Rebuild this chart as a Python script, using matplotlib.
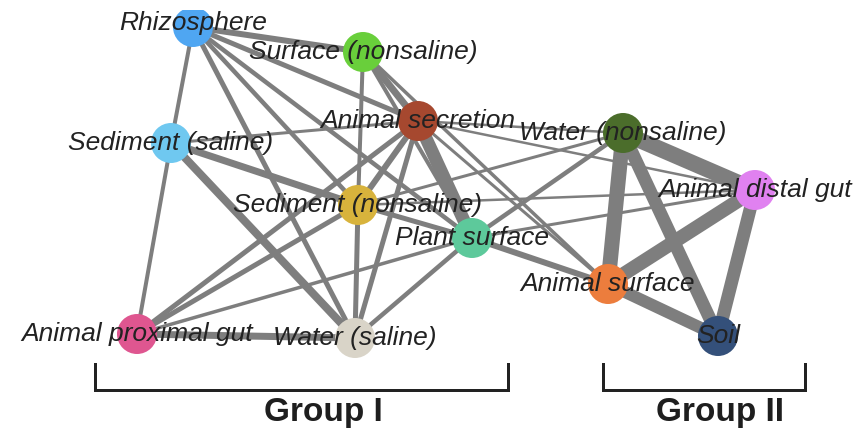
import matplotlib
matplotlib.use("Agg")
import matplotlib.pyplot as plt

# network of habitat co-occurrence, node positions in pixel units
names = ["Rhizosphere", "Surface (nonsaline)", "Animal secretion",
         "Sediment (saline)", "Sediment (nonsaline)", "Plant surface",
         "Animal proximal gut", "Water (saline)", "Water (nonsaline)",
         "Animal distal gut", "Animal surface", "Soil"]
colors = ["#4fa6f2", "#69cf3b", "#a6482f", "#6fc8f0", "#d8b33c", "#5dc99b",
          "#df5690", "#d9d4c8", "#4b6d2b", "#e081f0", "#ec7d3d", "#34507a"]

layout = {
    "Rhizosphere": (193, 27),
    "Surface (nonsaline)": (363, 52),
    "Animal secretion": (418, 121),
    "Sediment (saline)": (171, 143),
    "Sediment (nonsaline)": (358, 205),
    "Plant surface": (472, 238),
    "Animal proximal gut": (137, 334),
    "Water (saline)": (355, 338),
    "Water (nonsaline)": (623, 133),
    "Animal distal gut": (755, 190),
    "Animal surface": (608, 284),
    "Soil": (718, 336),
}

# edges: (a, b, weight) -> weight drawn as line width
edges = [
    ("Rhizosphere", "Sediment (saline)", 4),
    ("Sediment (saline)", "Animal proximal gut", 4),
    ("Rhizosphere", "Surface (nonsaline)", 6),
    ("Rhizosphere", "Animal secretion", 5),
    ("Rhizosphere", "Sediment (nonsaline)", 4.5),
    ("Rhizosphere", "Plant surface", 4.5),
    ("Rhizosphere", "Water (saline)", 5),
    ("Surface (nonsaline)", "Animal secretion", 7),
    ("Surface (nonsaline)", "Sediment (nonsaline)", 4),
    ("Sediment (nonsaline)", "Water (saline)", 5),
    ("Surface (nonsaline)", "Plant surface", 4),
    ("Surface (nonsaline)", "Animal surface", 3.5),
    ("Sediment (saline)", "Animal secretion", 3),
    ("Sediment (saline)", "Sediment (nonsaline)", 7),
    ("Sediment (nonsaline)", "Plant surface", 5),
    ("Sediment (saline)", "Water (saline)", 8),
    ("Animal secretion", "Sediment (nonsaline)", 6),
    ("Animal secretion", "Plant surface", 13),
    ("Animal secretion", "Animal proximal gut", 5),
    ("Animal secretion", "Water (saline)", 5),
    ("Animal secretion", "Water (nonsaline)", 2.5),
    ("Animal secretion", "Animal distal gut", 2.5),
    ("Animal secretion", "Animal surface", 3),
    ("Sediment (nonsaline)", "Animal proximal gut", 5),
    ("Plant surface", "Animal proximal gut", 3.5),
    ("Animal proximal gut", "Water (saline)", 7),
    ("Water (saline)", "Plant surface", 4.5),
    ("Sediment (nonsaline)", "Water (nonsaline)", 3),
    ("Sediment (nonsaline)", "Animal distal gut", 2.5),
    ("Plant surface", "Water (nonsaline)", 4.5),
    ("Plant surface", "Animal distal gut", 3),
    ("Plant surface", "Animal surface", 6),
    ("Water (nonsaline)", "Animal distal gut", 16),
    ("Water (nonsaline)", "Animal surface", 15),
    ("Water (nonsaline)", "Soil", 13),
    ("Animal distal gut", "Animal surface", 14),
    ("Animal distal gut", "Soil", 13),
    ("Animal surface", "Soil", 12),
]

groups = ["Group I", "Group II"]
group_span = [(95, 508), (603, 805)]
group_label_x = [323, 720]

W, H = 856, 429
fig = plt.figure(figsize=(W / 100, H / 100), dpi=100)
ax = fig.add_axes([0, 0, 1, (H - 10) / H])
ax.set_xlim(0, W)
ax.set_ylim(H, 10)
ax.axis("off")

px = 0.72  # pixel -> points at 100 dpi

for a, b, w in edges:
    xa, ya = layout[a]
    xb, yb = layout[b]
    ax.plot([xa, xb], [ya, yb], color="#7e7e7e", lw=w * px,
            solid_capstyle="butt", zorder=1)

xs = [layout[n][0] for n in names]
ys = [layout[n][1] for n in names]
ax.scatter(xs, ys, s=(40 * px) ** 2, c=colors, linewidths=0, zorder=2)

for n in names:
    x, y = layout[n]
    if n == "Rhizosphere":
        y -= 4
    ax.text(x, y, n, ha="center", va="center", fontsize=19,
            style="italic", family="Liberation Sans", color="#222222",
            zorder=3)

for g, (x0, x1), lx in zip(groups, group_span, group_label_x):
    ax.plot([x0, x0, x1, x1], [364, 390, 390, 364], color="#222222",
            lw=3 * px, solid_joinstyle="miter", zorder=1)
    ax.text(lx, 412, g, ha="center", va="center",
            fontsize=24, fontweight="bold", family="Liberation Sans",
            color="#1e1e1e")

fig.savefig("out.png", dpi=100)
